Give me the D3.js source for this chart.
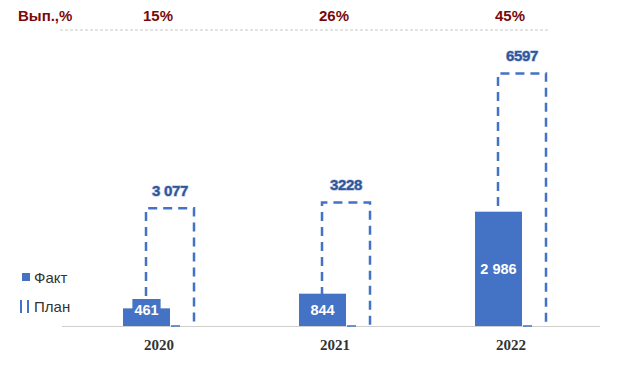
<!DOCTYPE html>
<html>
<head>
<meta charset="utf-8">
<script src="https://cdn.jsdelivr.net/npm/d3@7"></script>
<style>
  body { margin: 0; background: #fff; }
  svg { display: block; }
</style>
</head>
<body>
<div id="chart"></div>
<script>
const years = ["2020", "2021", "2022"];
const fact = [461, 844, 2986];
const plan = [3077, 3228, 6597];
const factLabels = ["461", "844", "2 986"];
const planLabels = ["3 077", "3228", "6597"];
const pct = ["15%", "26%", "45%"];

const blue = "#4472C4";
const width = 619, height = 365;
const baseY = 326;

const svg = d3.select("#chart").append("svg")
  .attr("width", width)
  .attr("height", height);

const x = d3.scaleBand().domain(years).range([70, 598]);
const y = d3.scaleLinear().domain([0, 7000]).range([baseY, 58]);

const cx = d => x(d) + x.bandwidth() / 2;

// top row: percent of execution
svg.append("line")
  .attr("x1", 60).attr("x2", 550)
  .attr("y1", 30).attr("y2", 30)
  .attr("stroke", "#c8c8c8")
  .attr("stroke-dasharray", "3,2");

svg.append("text")
  .attr("x", 18).attr("y", 21)
  .attr("font-family", "Liberation Sans, Arial, sans-serif")
  .attr("font-weight", "bold")
  .attr("font-size", 15)
  .attr("fill", "#7a0a0a")
  .text("Вып.,%");

svg.selectAll(".pct")
  .data(years)
  .join("text")
  .attr("x", d => cx(d))
  .attr("y", 21)
  .attr("text-anchor", "middle")
  .attr("font-family", "Liberation Sans, Arial, sans-serif")
  .attr("font-weight", "bold")
  .attr("font-size", 15)
  .attr("fill", "#7a0a0a")
  .text((d, i) => pct[i]);

// baseline
svg.append("line")
  .attr("x1", 62).attr("x2", 600)
  .attr("y1", baseY + 0.5).attr("y2", baseY + 0.5)
  .attr("stroke", "#cfcfcf");

// fact bars
svg.selectAll(".fact")
  .data(years)
  .join("rect")
  .attr("x", d => cx(d) - 35)
  .attr("width", 47)
  .attr("y", (d, i) => y(fact[i]))
  .attr("height", (d, i) => baseY - y(fact[i]))
  .attr("fill", blue);

// plan bars (dashed outline, open at the bottom)
svg.selectAll(".plan")
  .data(years)
  .join("path")
  .attr("d", (d, i) => {
    const x0 = cx(d) - 12, x1 = x0 + 48, top = y(plan[i]);
    return `M${x0},${baseY}V${top}H${x1}V${baseY}`;
  })
  .attr("fill", "none")
  .attr("stroke", blue)
  .attr("stroke-width", 2.5)
  .attr("stroke-dasharray", "9,6");

// short piece of the bottom edge, next to the fact bar
svg.selectAll(".planbase")
  .data(years)
  .join("line")
  .attr("x1", d => cx(d) + 13)
  .attr("x2", d => cx(d) + 22)
  .attr("y1", baseY)
  .attr("y2", baseY)
  .attr("stroke", blue)
  .attr("stroke-width", 1.5);

// fact labels with background box
years.forEach((d, i) => {
  const mid = (y(fact[i]) + baseY) / 2;
  const ly = Math.min(mid, baseY - 16);
  const t = svg.append("text")
    .attr("x", cx(d) - 11.5)
    .attr("y", ly + 5)
    .attr("text-anchor", "middle")
    .attr("font-family", "Liberation Sans, Arial, sans-serif")
    .attr("font-weight", "bold")
    .attr("font-size", 14.5)
    .attr("fill", "#fff")
    .text(factLabels[i]);
  const bb = t.node().getBBox();
  svg.insert("rect", () => t.node())
    .attr("x", bb.x - 2)
    .attr("y", ly - 11)
    .attr("width", bb.width + 4)
    .attr("height", 22)
    .attr("fill", blue);
});

// plan labels
svg.selectAll(".planlab")
  .data(years)
  .join("text")
  .attr("x", d => cx(d) + 12)
  .attr("y", (d, i) => y(plan[i]) - 12)
  .attr("text-anchor", "middle")
  .attr("font-family", "Liberation Sans, Arial, sans-serif")
  .attr("font-weight", "bold")
  .attr("font-size", 15)
  .attr("fill", "#2f5597")
  .attr("stroke", "#a9bde3")
  .attr("stroke-width", 1.2)
  .attr("paint-order", "stroke")
  .attr("letter-spacing", -0.3)
  .text((d, i) => planLabels[i]);

// category labels
svg.selectAll(".year")
  .data(years)
  .join("text")
  .attr("x", d => cx(d) + 1)
  .attr("y", 350)
  .attr("text-anchor", "middle")
  .attr("font-family", "Liberation Serif, Times New Roman, serif")
  .attr("font-weight", "bold")
  .attr("font-size", 15)
  .attr("fill", "#333")
  .text(d => d);

// legend
svg.append("rect")
  .attr("x", 22).attr("y", 273)
  .attr("width", 8).attr("height", 8)
  .attr("fill", blue);
svg.append("text")
  .attr("x", 34).attr("y", 283)
  .attr("font-family", "Liberation Sans, Arial, sans-serif")
  .attr("font-size", 15)
  .attr("fill", "#333")
  .text("Факт");

[21, 28].forEach(lx => {
  svg.append("line")
    .attr("x1", lx).attr("x2", lx)
    .attr("y1", 300).attr("y2", 313)
    .attr("stroke", blue)
    .attr("stroke-width", 2);
});
svg.append("text")
  .attr("x", 34).attr("y", 312)
  .attr("font-family", "Liberation Sans, Arial, sans-serif")
  .attr("font-size", 15)
  .attr("fill", "#333")
  .text("План");
</script>
</body>
</html>
